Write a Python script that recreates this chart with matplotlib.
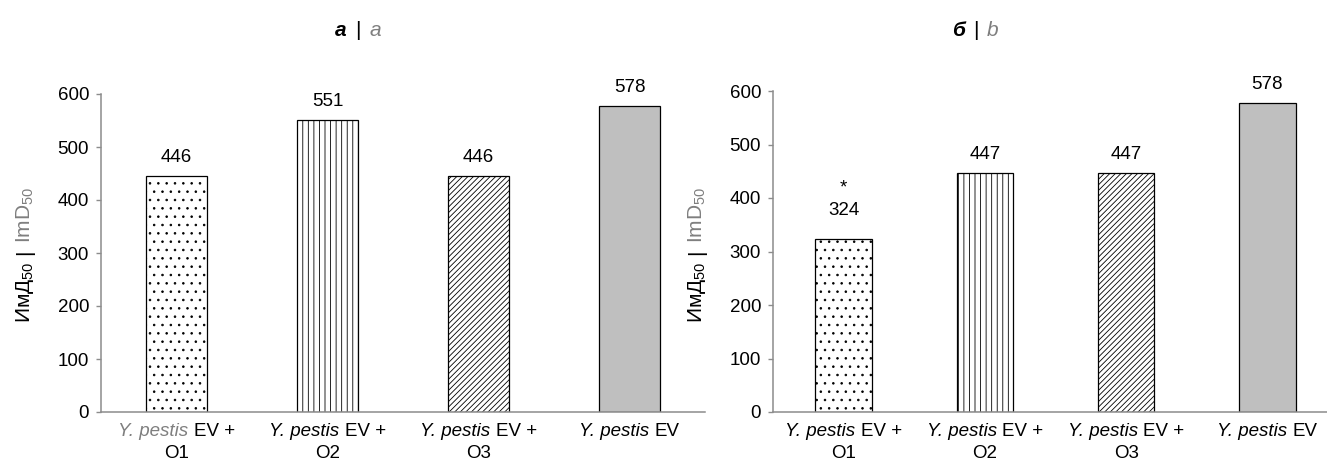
import matplotlib
matplotlib.use("Agg")
import matplotlib.pyplot as plt
from matplotlib.transforms import offset_copy

plt.rcParams["font.family"] = ["Liberation Sans", "DejaVu Sans"]
plt.rcParams["mathtext.fontset"] = "custom"
plt.rcParams["mathtext.rm"] = "Liberation Sans"
plt.rcParams["mathtext.it"] = "Liberation Sans:italic"
plt.rcParams["hatch.linewidth"] = 0.6

# data
species = "Y. pestis"
label_rest = ["EV +", "EV +", "EV +", "EV"]
label_second = ["O1", "O2", "O3", ""]
values_a = [446, 551, 446, 578]
values_b = [324, 447, 447, 578]
notes_b = ["*", "", "", ""]
hatches = ["..", "|||", "//////", ""]
fills = ["white", "white", "white", "#bfbfbf"]

GRAY = "#8c8c8c"
LABEL_GRAY = "#7f7f7f"
FS = 13.5
DPI = 100

fig = plt.figure(figsize=(13.27, 4.62), dpi=DPI)
renderer = fig.canvas.get_renderer()


def put_parts(x, y, trans, parts, size, vertical=False, gap=0.28):
    """place several differently styled pieces of text in one centred row"""
    texts = []
    for s, st in parts:
        t = fig.text(x, y, s, fontsize=size, transform=trans,
                     ha="left" if not vertical else "center",
                     va="center" if not vertical else "bottom",
                     rotation=90 if vertical else 0,
                     rotation_mode="anchor" if not vertical else "default", **st)
        texts.append(t)
    sizes = []
    for t in texts:
        bb = t.get_window_extent(renderer)
        sizes.append(bb.height if vertical else bb.width)
    space = gap * size * DPI / 72
    total = sum(sizes) + space * (len(sizes) - 1)
    pos = -total / 2
    for t, w in zip(texts, sizes):
        if vertical:
            t.set_transform(offset_copy(trans, fig=fig, x=0, y=pos, units="dots"))
        else:
            t.set_transform(offset_copy(trans, fig=fig, x=pos, y=0, units="dots"))
        pos += w + space
    return texts


def draw_panel(rect, values, notes, first_gray):
    ax = fig.add_axes(rect)
    x = range(len(values))
    ax.bar(x, values, width=0.4, color=fills, edgecolor="black",
           linewidth=0.9, hatch=hatches, zorder=2)
    ax.set_xlim(-0.5, len(values) - 0.5)
    ax.set_ylim(0, 600)
    ax.set_yticks(range(0, 601, 100))
    ax.tick_params(axis="y", length=3.6, width=1, color=GRAY, pad=5, labelsize=FS)
    ax.tick_params(axis="x", length=0, labelbottom=False)
    for side in ["top", "right"]:
        ax.spines[side].set_visible(False)
    for side in ["left", "bottom"]:
        ax.spines[side].set_color(GRAY)
        ax.spines[side].set_linewidth(1.1)

    for i, v in enumerate(values):
        lbl = str(v)
        extra = 0
        if notes[i]:
            extra = 7
            ax.annotate(notes[i], (i, v), xytext=(0, 10 + extra + 16),
                        textcoords="offset points", ha="center", va="baseline",
                        fontsize=FS)
        ax.annotate(lbl, (i, v), xytext=(0, 10 + extra), textcoords="offset points",
                    ha="center", va="baseline", fontsize=FS)

    xtrans = ax.get_xaxis_transform()
    for i in x:
        sp_color = LABEL_GRAY if (first_gray and i == 0) else "black"
        put_parts(i, 0, offset_copy(xtrans, fig=fig, x=0, y=-20, units="dots"),
                  [(species, dict(style="italic", color=sp_color)),
                   (label_rest[i], dict(color="black"))], FS)
        if label_second[i]:
            fig.text(i, 0, label_second[i], fontsize=FS, ha="center", va="center",
                     transform=offset_copy(xtrans, fig=fig, x=0, y=-42, units="dots"))
    return ax


ax_a = draw_panel([101 / 1327, 1 - 412 / 462, 604 / 1327, 318 / 462], values_a, ["", "", "", ""], True)
ax_b = draw_panel([773 / 1327, 1 - 412 / 462, 565 / 1327, 321 / 462], values_b, notes_b, False)

# titles of the panels
put_parts(358 / 1327, 1 - 30 / 462, fig.transFigure,
          [("а", dict(style="italic", weight="bold", color="black")),
           ("|", dict(color="black")),
           ("a", dict(style="italic", color=LABEL_GRAY))], 15, gap=0.4)
put_parts(975 / 1327, 1 - 30 / 462, fig.transFigure,
          [("б", dict(style="italic", weight="bold", color="black")),
           ("|", dict(color="black")),
           ("b", dict(style="italic", color=LABEL_GRAY))], 15, gap=0.4)

# y labels
for xpos in [25 / 1327, 697 / 1327]:
    put_parts(xpos, 1 - 255 / 462, fig.transFigure,
              [("ИмД$_{50}$", dict(color="black")),
               ("|", dict(color="black")),
               ("ImD$_{50}$", dict(color=LABEL_GRAY))], 15, vertical=True, gap=0.3)

fig.savefig("out.png", dpi=DPI)
